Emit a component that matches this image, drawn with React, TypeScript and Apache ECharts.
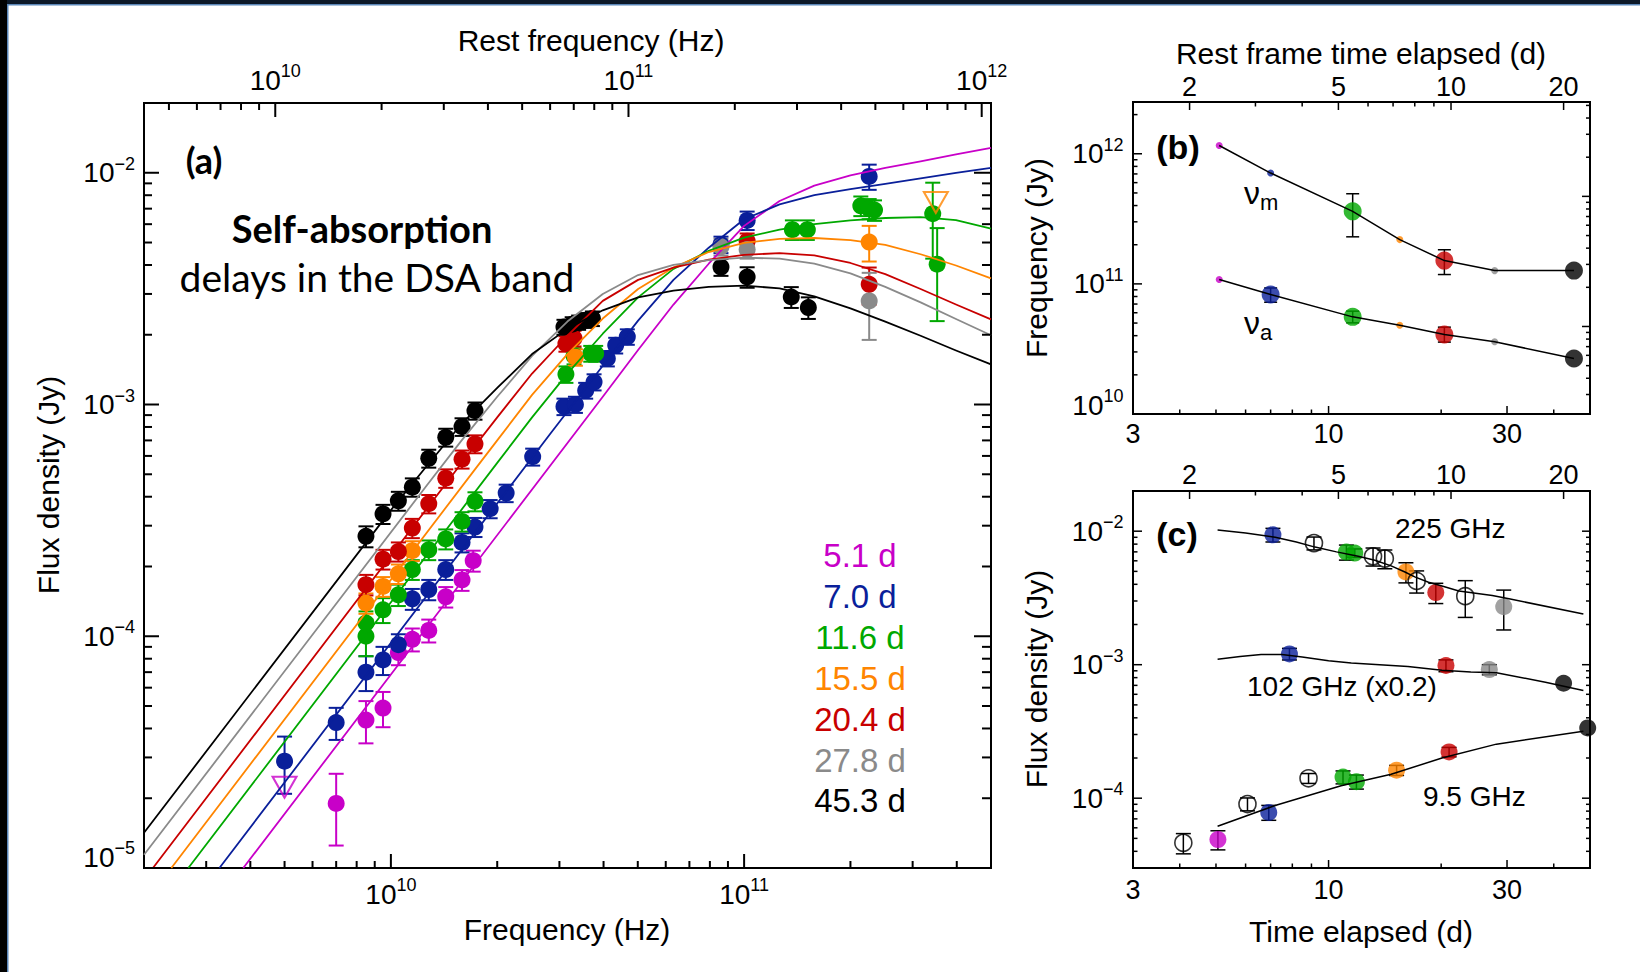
import React, { useEffect, useRef } from "react";
import * as echarts from "echarts";

const FONT = "'Liberation Sans', Arial, Helvetica, sans-serif";
const CAL = "Lato, 'Open Sans', sans-serif";
const ONE_PLUS_Z = 2.125;

const epochLabels = ["5.1 d", "7.0 d", "11.6 d", "15.5 d", "20.4 d", "27.8 d", "45.3 d"];
const epochColors = ["#c800c8", "#0a1f9a", "#00a800", "#ff8500", "#c80000", "#8a8a8a", "#000000"];

// ---------- Panel (a): SEDs  [frequency Hz, flux Jy, sigma Jy]
const sedMagenta = [
  [7.0e9, 1.9e-5, 6.5e-6], [8.5e9, 4.35e-5, 9e-6], [9.5e9, 4.9e-5, 8.5e-6], [1.05e10, 8.5e-5, 1.0e-5],
  [1.15e10, 9.7e-5, 1.1e-5], [1.28e10, 1.06e-4, 1.2e-5], [1.43e10, 1.48e-4, 1.5e-5], [1.59e10, 1.75e-4, 1.8e-5],
  [1.71e10, 2.12e-4, 2.2e-5],
];
const sedBlue = [
  [5.0e9, 2.89e-5, 8e-6], [7.0e9, 4.24e-5, 6.7e-6], [8.5e9, 7.0e-5, 1.2e-5], [9.5e9, 7.9e-5, 1.1e-5],
  [1.05e10, 9.2e-5, 1.0e-5], [1.15e10, 1.45e-4, 1.5e-5], [1.28e10, 1.59e-4, 1.6e-5], [1.43e10, 1.94e-4, 1.9e-5],
  [1.59e10, 2.54e-4, 2.4e-5], [1.73e10, 2.96e-4, 2.8e-5], [1.91e10, 3.55e-4, 3.2e-5], [2.12e10, 4.15e-4, 3.6e-5],
  [2.52e10, 5.95e-4, 5e-5], [3.09e10, 9.8e-4, 8e-5], [3.33e10, 1.0e-3, 8e-5], [3.56e10, 1.15e-3, 9e-5],
  [3.76e10, 1.25e-3, 1.0e-4], [4.1e10, 1.58e-3, 1.2e-4], [4.33e10, 1.8e-3, 1.4e-4], [4.67e10, 1.96e-3, 1.5e-4],
  [8.6e10, 4.9e-3, 4e-4], [1.02e11, 6.23e-3, 5.7e-4], [2.26e11, 9.64e-3, 1.2e-3],
];
const sedGreen = [
  [8.5e9, 1.0e-4, 1.8e-5], [8.5e9, 1.14e-4, 1.4e-5], [9.5e9, 1.3e-4, 1.6e-5], [1.05e10, 1.51e-4, 1.6e-5],
  [1.15e10, 1.94e-4, 1.9e-5], [1.28e10, 2.36e-4, 2.3e-5], [1.43e10, 2.63e-4, 2.6e-5], [1.59e10, 3.13e-4, 3e-5],
  [1.73e10, 3.82e-4, 3.6e-5], [3.13e10, 1.35e-3, 1.1e-4], [3.3e10, 1.62e-3, 1.3e-4], [3.68e10, 1.66e-3, 1.3e-4],
  [3.8e10, 1.66e-3, 1.3e-4], [1.37e11, 5.68e-3, 5.5e-4], [1.51e11, 5.68e-3, 5.5e-4], [2.14e11, 7.2e-3, 7e-4],
  [2.26e11, 7.0e-3, 7e-4], [2.34e11, 6.9e-3, 7e-4], [3.42e11, 6.66e-3, 2.4e-3], [3.52e11, 4.03e-3, 1.74e-3],
];
const sedOrange = [
  [8.5e9, 1.39e-4, 1.4e-5], [9.5e9, 1.64e-4, 1.6e-5], [1.05e10, 1.86e-4, 1.8e-5], [1.15e10, 2.34e-4, 2.3e-5],
  [3.33e10, 1.6e-3, 1.3e-4], [2.26e11, 5.02e-3, 8.8e-4],
];
const sedRed = [
  [8.5e9, 1.67e-4, 1.7e-5], [9.5e9, 2.15e-4, 2.1e-5], [1.05e10, 2.32e-4, 2.2e-5], [1.15e10, 2.93e-4, 2.8e-5],
  [1.28e10, 3.73e-4, 3.4e-5], [1.43e10, 4.81e-4, 4.4e-5], [1.59e10, 5.81e-4, 5.2e-5], [1.73e10, 6.76e-4, 6e-5],
  [3.13e10, 1.83e-3, 1.4e-4], [3.3e10, 1.93e-3, 1.5e-4], [1.02e11, 5.07e-3, 4e-4], [2.26e11, 3.3e-3, 6e-4],
];
const sedGray = [
  [8.6e10, 4.79e-3, 4e-4], [1.02e11, 4.66e-3, 4e-4], [2.26e11, 2.8e-3, 9e-4],
];
const sedBlack = [
  [8.5e9, 2.7e-4, 2.8e-5], [9.5e9, 3.37e-4, 3.2e-5], [1.05e10, 3.84e-4, 3.6e-5], [1.15e10, 4.4e-4, 4e-5],
  [1.28e10, 5.86e-4, 5.2e-5], [1.43e10, 7.22e-4, 6.4e-5], [1.59e10, 8.02e-4, 7e-5], [1.73e10, 9.4e-4, 8e-5],
  [3.09e10, 2.16e-3, 1.6e-4], [3.26e10, 2.22e-3, 1.6e-4], [3.4e10, 2.26e-3, 1.6e-4], [3.56e10, 2.31e-3, 1.7e-4],
  [3.72e10, 2.35e-3, 1.7e-4], [8.6e10, 3.92e-3, 3.3e-4], [1.02e11, 3.55e-3, 3.6e-4], [1.36e11, 2.91e-3, 3e-4],
  [1.52e11, 2.62e-3, 2.8e-4],
];
const limitMagenta = [[5.0e9, 2.23e-5]];
const limitOrange = [[3.49e11, 7.44e-3]];

// model curves [frequency Hz, flux Jy]
const curveMagenta = [[3.82e9, 1e-5], [3.98e10, 1.08e-3], [5.01e10, 1.72e-3], [6.31e10, 2.7e-3], [7.94e10, 4.05e-3], [1e11, 5.9e-3], [1.26e11, 7.55e-3], [1.58e11, 8.8e-3], [2e11, 9.75e-3], [2.51e11, 1.05e-2], [3.16e11, 1.12e-2], [3.98e11, 1.2e-2], [5e11, 1.28e-2]];
const curveBlue = [[3.27e9, 1e-5], [2.83e10, 7.5e-4], [3.98e10, 1.47e-3], [5.01e10, 2.3e-3], [6.31e10, 3.45e-3], [7.94e10, 4.75e-3], [1e11, 6.3e-3], [1.26e11, 7.3e-3], [1.58e11, 8.0e-3], [2e11, 8.5e-3], [2.51e11, 8.95e-3], [3.16e11, 9.45e-3], [3.98e11, 9.98e-3], [5e11, 1.05e-2]];
const curveGreen = [[2.67e9, 1e-5], [2e10, 5.6e-4], [2.51e10, 8.8e-4], [3.16e10, 1.36e-3], [3.98e10, 2.02e-3], [5.01e10, 2.9e-3], [6.31e10, 3.85e-3], [7.94e10, 4.6e-3], [1e11, 5.25e-3], [1.26e11, 5.68e-3], [1.58e11, 6.0e-3], [2e11, 6.23e-3], [2.51e11, 6.38e-3], [3.16e11, 6.44e-3], [3.98e11, 6.25e-3], [5e11, 5.74e-3]];
const curveOrange = [[2.39e9, 1e-5], [1.73e10, 5.25e-4], [2e10, 7.0e-4], [2.51e10, 1.1e-3], [3.16e10, 1.65e-3], [3.98e10, 2.35e-3], [5.01e10, 3.15e-3], [6.31e10, 3.9e-3], [7.94e10, 4.55e-3], [1e11, 4.98e-3], [1.26e11, 5.18e-3], [1.58e11, 5.23e-3], [2e11, 5.12e-3], [2.51e11, 4.88e-3], [3.16e11, 4.45e-3], [3.98e11, 3.98e-3], [5e11, 3.5e-3]];
const curveRed = [[2.12e9, 1e-5], [1.58e10, 5.55e-4], [2e10, 8.8e-4], [2.51e10, 1.36e-3], [3.16e10, 1.98e-3], [3.98e10, 2.8e-3], [5.01e10, 3.45e-3], [6.31e10, 3.9e-3], [7.94e10, 4.22e-3], [1e11, 4.42e-3], [1.26e11, 4.5e-3], [1.58e11, 4.4e-3], [2e11, 4.08e-3], [2.51e11, 3.65e-3], [3.16e11, 3.15e-3], [3.98e11, 2.7e-3], [5e11, 2.33e-3]];
const curveGray = [[2e9, 1.14e-5], [1.26e10, 4.45e-4], [1.58e10, 6.95e-4], [2e10, 1.08e-3], [2.51e10, 1.62e-3], [3.16e10, 2.28e-3], [3.98e10, 3.0e-3], [5.01e10, 3.62e-3], [6.31e10, 4.0e-3], [7.94e10, 4.2e-3], [1e11, 4.3e-3], [1.26e11, 4.26e-3], [1.58e11, 4.05e-3], [2e11, 3.68e-3], [2.51e11, 3.22e-3], [3.16e11, 2.76e-3], [3.98e11, 2.34e-3], [5e11, 1.99e-3]];
const curveBlack = [[2e9, 1.42e-5], [1e10, 3.5e-4], [1.26e10, 5.4e-4], [1.58e10, 8.2e-4], [2e10, 1.18e-3], [2.51e10, 1.65e-3], [3.16e10, 2.12e-3], [3.98e10, 2.55e-3], [5.01e10, 2.9e-3], [6.31e10, 3.1e-3], [7.94e10, 3.22e-3], [1e11, 3.26e-3], [1.26e11, 3.17e-3], [1.58e11, 2.93e-3], [2e11, 2.6e-3], [2.51e11, 2.28e-3], [3.16e11, 1.98e-3], [3.98e11, 1.71e-3], [5e11, 1.49e-3]];

const sedByEpoch = [sedMagenta, sedBlue, sedGreen, sedOrange, sedRed, sedGray, sedBlack];
const curveByEpoch = [curveMagenta, curveBlue, curveGreen, curveOrange, curveRed, curveGray, curveBlack];

// ---------- Panel (b): break frequencies
const breakTime = [5.1, 7.0, 11.6, 15.5, 20.4, 27.8, 45.3];
const nuM = [1.158e12, 7.11e11, 3.61e11, 2.19e11, 1.51e11, 1.265e11, 1.265e11];
const nuMLo = [0, 0, 2.3e11, 0, 1.18e11, 0, 0];
const nuMHi = [0, 0, 4.93e11, 0, 1.83e11, 0, 0];
const nuMBig = [0, 0, 1, 0, 1, 0, 1];
const nuA = [1.08e11, 8.28e10, 5.58e10, 4.81e10, 4.08e10, 3.59e10, 2.67e10];
const nuALo = [0, 7.23e10, 5.02e10, 0, 3.57e10, 0, 0];
const nuAHi = [0, 9.3e10, 6.17e10, 0, 4.65e10, 0, 0];
const nuABig = [0, 1, 1, 0, 1, 0, 1];

// ---------- Panel (c): light curves [time d, flux Jy, sigma Jy]; kind = epoch index, -1 = open circle
const lc225 = [[7.1, 9.4e-3, 1.1e-3], [9.14, 8.14e-3, 9e-4], [11.16, 6.97e-3, 9e-4], [11.75, 6.86e-3, 5e-4], [13.15, 6.48e-3, 1e-3], [14.14, 6.23e-3, 1e-3], [16.1, 4.95e-3, 8.5e-4], [17.2, 4.24e-3, 8e-4], [19.35, 3.47e-3, 6e-4], [23.2, 3.26e-3, 1e-3], [29.4, 2.72e-3, 9e-4]];
const kind225 = [1, -1, 2, 2, -1, -1, 3, -1, 4, -1, 5];
const lc102 = [[7.86, 1.205e-3, 1.2e-4], [20.6, 9.86e-4, 1.0e-4], [26.9, 9.2e-4, 8e-5], [42.5, 7.26e-4, 0]];
const kind102 = [1, 4, 5, 6];
const lc95 = [[4.09, 4.63e-5, 8e-6], [5.06, 4.9e-5, 8e-6], [6.07, 9.04e-5, 1.0e-5], [6.92, 7.83e-5, 1e-5], [8.84, 1.41e-4, 1.2e-5], [10.93, 1.44e-4, 1.6e-5], [11.87, 1.33e-4, 1.6e-5], [15.2, 1.62e-4, 1.4e-5], [21.0, 2.22e-4, 1.8e-5], [49.3, 3.36e-4, 0]];
const kind95 = [-1, 0, -1, 1, -1, 2, 2, 3, 4, 6];
const model225 = [[5.05, 1.02e-2], [6, 9.7e-3], [7.2, 9.0e-3], [8.2, 8.3e-3], [9.2, 7.6e-3], [10.5, 7.0e-3], [12, 6.5e-3], [13.3, 6.05e-3], [14.7, 5.5e-3], [16, 4.95e-3], [17, 4.55e-3], [18.5, 4.15e-3], [20, 3.9e-3], [22.3, 3.57e-3], [27.4, 3.3e-3], [30.6, 3.1e-3], [48, 2.4e-3]];
const model102 = [[5.05, 1.1e-3], [5.8, 1.15e-3], [6.6, 1.19e-3], [7.5, 1.19e-3], [8.5, 1.14e-3], [10, 1.07e-3], [11.5, 1.03e-3], [16.3, 9.7e-4], [20.1, 9.1e-4], [24, 8.8e-4], [28.1, 8.7e-4], [38, 7.4e-4], [48, 6.4e-4]];
const model95 = [[5.05, 6.17e-5], [7.16, 8.77e-5], [10.8, 1.24e-4], [14.7, 1.51e-4], [20.1, 2.0e-4], [28.1, 2.54e-4], [48, 3.17e-4]];

// ---------- tick labels
const aBottomLabels = [[1e10, "10"], [1e11, "11"]];
const aTopLabels = [[1e10, "10"], [1e11, "11"], [1e12, "12"]];
const aLeftLabels = [[1e-5, "\u22125"], [1e-4, "\u22124"], [1e-3, "\u22123"], [1e-2, "\u22122"]];
const bLeftLabels = [[1e10, "10"], [1e11, "11"], [1e12, "12"]];
const cLeftLabels = [[1e-4, "\u22124"], [1e-3, "\u22123"], [1e-2, "\u22122"]];
const timeBottomLabels = [3, 10, 30];
const timeTopLabels = [2, 5, 10, 20];

function minorsLog(lo: number, hi: number) {
  const out: number[] = [];
  for (let e = -6; e <= 13; e++) {
    for (let d = 2; d <= 9; d++) {
      const v = d * Math.pow(10, e);
      if (v > lo * 1.0001 && v < hi * 0.9999) out.push(v);
    }
  }
  return out;
}

type Tick = { v: number; len: number; label?: string; pow?: boolean; dy?: number };
const near = (a: number, b: number) => Math.abs(Math.log10(a) - Math.log10(b)) < 1e-6;

function buildTicks(lo: number, hi: number, majors: number[], majorLen: number, minorLen: number, labels: any[], pow: boolean, dyList: number[][] = []) {
  const ticks: Tick[] = [];
  minorsLog(lo, hi).forEach((v) => {
    if (!majors.some((m) => near(m, v))) ticks.push({ v, len: minorLen });
  });
  majors.forEach((m) => ticks.push({ v: m, len: majorLen }));
  labels.forEach((l) => {
    const val = pow ? l[0] : l;
    const text = pow ? l[1] : String(l);
    const d = dyList.find((q) => near(q[0], val));
    const dy = d ? d[1] : 0;
    const t = ticks.find((tk) => near(tk.v, val));
    if (t) { t.label = text; t.pow = pow; t.dy = dy; }
    else ticks.push({ v: val, len: 0, label: text, pow, dy });
  });
  return ticks;
}

function richPow(fs: number, ss: number) {
  return {
    b: { fontSize: fs, fontFamily: FONT, lineHeight: fs + 8, fill: "#000" },
    s: { fontSize: ss, fontFamily: FONT, verticalAlign: "top", fill: "#000" },
  };
}

function tickSeries(xi: number, yi: number, side: string, ticks: Tick[], fixed: number, off: number, fs: number, lw: number) {
  const horiz = side === "bottom" || side === "top";
  return {
    type: "custom",
    xAxisIndex: xi,
    yAxisIndex: yi,
    silent: true,
    z: 6,
    clip: false,
    data: ticks.map((t) => (horiz ? [t.v, fixed] : [fixed, t.v])),
    renderItem: (params: any, api: any) => {
      const t = ticks[params.dataIndex];
      const p = api.coord(horiz ? [t.v, fixed] : [fixed, t.v]);
      const x = p[0], y = p[1];
      let x2 = x, y2 = y;
      if (side === "bottom") y2 = y - t.len;
      else if (side === "top") y2 = y + t.len;
      else if (side === "left") x2 = x + t.len;
      else x2 = x - t.len;
      const children: any[] = [];
      if (t.len > 0) children.push({ type: "line", shape: { x1: x, y1: y, x2, y2 }, style: { stroke: "#000", lineWidth: lw } });
      if (t.label !== undefined) {
        let tx = x, ty = y, align = "center";
        if (side === "bottom") ty = y + off;
        else if (side === "top") ty = y - off;
        else if (side === "left") { tx = x - off; align = "right"; }
        ty += t.dy || 0;
        const style: any = t.pow
          ? { text: "{b|10}{s|" + t.label + "}", rich: richPow(fs, Math.round(fs * 0.64)) }
          : { text: t.label, fontSize: fs, fontFamily: FONT };
        style.fill = "#000";
        style.align = align; style.textAlign = align;
        style.verticalAlign = "middle"; style.textVerticalAlign = "middle";
        children.push({ type: "text", x: tx, y: ty, style });
      }
      return { type: "group", children };
    },
  };
}

function errSeries(xi: number, yi: number, rows: number[][], color: string, half: number, lw: number, z = 2) {
  return {
    type: "custom",
    xAxisIndex: xi,
    yAxisIndex: yi,
    silent: true,
    z,
    data: rows,
    renderItem: (params: any, api: any) => {
      const x = api.value(0), lo = api.value(1), hi = api.value(2);
      const a = api.coord([x, hi]);
      const b = api.coord([x, lo]);
      const st = { stroke: color, lineWidth: lw };
      return {
        type: "group",
        children: [
          { type: "line", shape: { x1: a[0], y1: a[1], x2: b[0], y2: b[1] }, style: st },
          { type: "line", shape: { x1: a[0] - half, y1: a[1], x2: a[0] + half, y2: a[1] }, style: st },
          { type: "line", shape: { x1: b[0] - half, y1: b[1], x2: b[0] + half, y2: b[1] }, style: st },
        ],
      };
    },
  };
}

function sigmaRows(pts: number[][]) {
  return pts.filter((p) => p[2] > 0).map((p) => [p[0], p[1] - p[2], p[1] + p[2]]);
}

function buildOption() {
  const A = { left: 144, top: 103, width: 847, height: 765 };
  const B = { left: 1133, top: 102, width: 457, height: 312 };
  const C = { left: 1133, top: 491, width: 457, height: 377 };
  const gridBase = { show: true, borderColor: "#000", borderWidth: 2, backgroundColor: "transparent", containLabel: false };
  const hidden = { show: false };
  const logAx = (gridIndex: number, min: number, max: number, position: string) => ({
    type: "log", logBase: 10, gridIndex, min, max, position,
    axisLine: hidden, axisTick: hidden, axisLabel: hidden, splitLine: hidden, minorTick: hidden, minorSplitLine: hidden,
  });

  const aX = [2e9, 5e11], aY = [1e-5, 2e-2];
  const tX = [3, 50], bY = [1e10, 2.5e12], cY = [3e-5, 2e-2];

  const xAxis = [
    logAx(0, aX[0], aX[1], "bottom"),
    logAx(0, aX[0] * ONE_PLUS_Z, aX[1] * ONE_PLUS_Z, "top"),
    logAx(1, tX[0], tX[1], "bottom"),
    logAx(1, tX[0] / ONE_PLUS_Z, tX[1] / ONE_PLUS_Z, "top"),
    logAx(2, tX[0], tX[1], "bottom"),
    logAx(2, tX[0] / ONE_PLUS_Z, tX[1] / ONE_PLUS_Z, "top"),
  ];
  const yAxis = [
    logAx(0, aY[0], aY[1], "left"),
    logAx(1, bY[0], bY[1], "left"),
    logAx(1, bY[0] * ONE_PLUS_Z, bY[1] * ONE_PLUS_Z, "right"),
    logAx(2, cY[0], cY[1], "left"),
  ];

  const series: any[] = [];

  // ----- ticks
  const aBot = buildTicks(aX[0], aX[1], [1e10, 1e11], 14, 7, aBottomLabels, true);
  const aTop = buildTicks(aX[0] * ONE_PLUS_Z, aX[1] * ONE_PLUS_Z, [1e10, 1e11, 1e12], 14, 7, aTopLabels, true);
  const aLeft = buildTicks(aY[0], aY[1], [1e-5, 1e-4, 1e-3, 1e-2], 15, 8, aLeftLabels, true, [[1e-5, -11]]);
  const aRight = buildTicks(aY[0], aY[1], [1e-4, 1e-3, 1e-2], 17, 9, [], true);
  series.push(tickSeries(0, 0, "bottom", aBot, aY[0], 26, 28, 2));
  series.push(tickSeries(1, 0, "top", aTop, aY[1], 23, 28, 2));
  series.push(tickSeries(0, 0, "left", aLeft, aX[0], 9, 28, 2));
  series.push(tickSeries(0, 0, "right", aRight, aX[1], 0, 28, 2));

  const tBot = buildTicks(tX[0], tX[1], [10, 30], 8, 4.5, timeBottomLabels, false);
  const tTop = buildTicks(tX[0] / ONE_PLUS_Z, tX[1] / ONE_PLUS_Z, [2, 5, 10, 20], 8, 4.5, timeTopLabels, false);
  const bLeft = buildTicks(bY[0], bY[1], [1e10, 1e11, 1e12], 9, 4.5, bLeftLabels, true, [[1e10, -9]]);
  const bRight = buildTicks(bY[0] * ONE_PLUS_Z, bY[1] * ONE_PLUS_Z, [1e11, 1e12], 8, 4, [], true);
  series.push(tickSeries(2, 1, "bottom", tBot, bY[0], 20, 27, 1.5));
  series.push(tickSeries(3, 1, "top", tTop, bY[1], 15, 27, 1.5));
  series.push(tickSeries(2, 1, "left", bLeft, tX[0], 9.5, 28, 1.5));
  series.push(tickSeries(2, 2, "right", bRight, tX[1], 0, 28, 1.5));

  const cLeft = buildTicks(cY[0], cY[1], [1e-4, 1e-3, 1e-2], 9, 4.5, cLeftLabels, true);
  const cRight = buildTicks(cY[0], cY[1], [1e-4, 1e-3, 1e-2], 8, 4, [], true);
  series.push(tickSeries(4, 3, "bottom", tBot, cY[0], 22, 27, 1.5));
  series.push(tickSeries(5, 3, "top", tTop, cY[1], 16, 27, 1.5));
  series.push(tickSeries(4, 3, "left", cLeft, tX[0], 9.5, 28, 1.5));
  series.push(tickSeries(4, 3, "right", cRight, tX[1], 0, 28, 1.5));

  // ----- panel (a) curves
  curveByEpoch.forEach((c, i) => {
    series.push({
      type: "line", xAxisIndex: 0, yAxisIndex: 0, data: c, showSymbol: false, symbol: "none",
      smooth: false, silent: true, clip: true,
      lineStyle: { color: epochColors[i], width: 1.8, join: "round" },
    });
  });
  // ----- panel (a) points
  sedByEpoch.forEach((s, i) => {
    series.push(errSeries(0, 0, sigmaRows(s), epochColors[i], 7.5, 2));
    series.push({
      type: "scatter", xAxisIndex: 0, yAxisIndex: 0, symbol: "circle", symbolSize: 17, silent: true,
      data: s.map((p) => [p[0], p[1]]), itemStyle: { color: epochColors[i], opacity: 1 },
    });
    if (i === 0 || i === 3) {
      series.push({
        type: "scatter", xAxisIndex: 0, yAxisIndex: 0, symbol: "triangle", symbolRotate: 180, symbolSize: [24, 21], silent: true,
        data: i === 0 ? limitMagenta : limitOrange,
        itemStyle: { color: "rgba(255,255,255,0)", borderColor: epochColors[i], borderWidth: 2 },
      });
    }
  });

  // ----- panel (b)
  const bLine = (vals: number[]) => ({
    type: "line", xAxisIndex: 2, yAxisIndex: 1, data: breakTime.map((t, k) => [t, vals[k]]), showSymbol: false,
    symbol: "none", silent: true, lineStyle: { color: "#000", width: 1.5 },
  });
  series.push(bLine(nuM));
  series.push(bLine(nuA));
  const bPts = (vals: number[], big: number[]) => ({
    type: "scatter", xAxisIndex: 2, yAxisIndex: 1, silent: true, symbol: "circle",
    data: breakTime.map((t, k) => ({ value: [t, vals[k]], symbolSize: big[k] ? 18 : 7, itemStyle: { color: epochColors[k] } })),
  });
  series.push(bPts(nuM, nuMBig));
  series.push(bPts(nuA, nuABig));
  const bErr = (lo: number[], hi: number[]) =>
    breakTime.map((t, k) => [t, lo[k], hi[k]]).filter((r) => r[1] > 0);
  series.push(errSeries(2, 1, bErr(nuMLo, nuMHi), "#000", 6.5, 1.5));
  series.push(errSeries(2, 1, bErr(nuALo, nuAHi), "#000", 6.5, 1.5));

  // ----- panel (c)
  [model225, model102, model95].forEach((m) => {
    series.push({
      type: "line", xAxisIndex: 4, yAxisIndex: 3, data: m, showSymbol: false, symbol: "none",
      smooth: false, silent: true, lineStyle: { color: "#000", width: 1.5, join: "round" },
    });
  });
  const cPts = (rows: number[][], kinds: number[]) => ({
    type: "scatter", xAxisIndex: 4, yAxisIndex: 3, silent: true, symbol: "circle", symbolSize: 17,
    data: rows.map((r, k) => ({
      value: [r[0], r[1]],
      itemStyle: kinds[k] < 0
        ? { color: "rgba(255,255,255,0)", borderColor: "#000", borderWidth: 1.6 }
        : { color: epochColors[kinds[k]], borderWidth: 0 },
    })),
  });
  [[lc225, kind225], [lc102, kind102], [lc95, kind95]].forEach((pair: any) => {
    series.push(cPts(pair[0], pair[1]));
    series.push(errSeries(4, 3, sigmaRows(pair[0]), "#000", 7.5, 1.5));
  });

  // ----- texts and frame
  const txt = (text: string, x: number, y: number, opts: any = {}) => ({
    type: "text", x, y, z: 20, silent: true, rotation: opts.rotation || 0,
    style: {
      text, fill: opts.color || "#000",
      font: opts.font || `30px ${FONT}`,
      align: opts.align || "center", textAlign: opts.align || "center",
      verticalAlign: "middle", textVerticalAlign: "middle",
      rich: opts.rich,
    },
  });
  const nuRich = {
    n: { fontSize: 32, fontFamily: FONT, verticalAlign: "top", fill: "#000" },
    s: { fontSize: 22, fontFamily: FONT, verticalAlign: "bottom", lineHeight: 37, fill: "#000" },
  };
  const graphic: any[] = [
    { type: "rect", shape: { x: 0, y: 0, width: 1640, height: 4 }, style: { fill: "#0c1828" }, z: 30, silent: true },
    { type: "rect", shape: { x: 0, y: 0, width: 7, height: 972 }, style: { fill: "#020202" }, z: 30, silent: true },
    { type: "rect", shape: { x: 7, y: 4, width: 1633, height: 1.5 }, style: { fill: "#5a86b8" }, z: 30, silent: true },
    { type: "rect", shape: { x: 7, y: 4, width: 1.5, height: 968 }, style: { fill: "#5a86b8" }, z: 30, silent: true },

    txt("(a)", 204, 160, { font: `bold 36px ${CAL}` }),
    txt("Self-absorption", 362, 228, { font: `bold 38px ${CAL}` }),
    txt("delays in the DSA band", 377, 277, { font: `39px ${CAL}` }),
    txt("Flux density (Jy)", 48, 485, { rotation: Math.PI / 2 }),
    txt("Frequency (Hz)", 567, 929),
    txt("Rest frequency (Hz)", 591, 40),

    txt("(b)", 1178, 147, { font: `bold 34px ${FONT}` }),
    txt("Rest frame time elapsed (d)", 1361, 53),
    txt("Frequency (Jy)", 1036, 258, { rotation: Math.PI / 2 }),
    txt("{n|\u03bd}{s|m}", 1244, 195, { align: "left", rich: nuRich }),
    txt("{n|\u03bd}{s|a}", 1244, 325, { align: "left", rich: nuRich }),

    txt("(c)", 1177, 534, { font: `bold 34px ${FONT}` }),
    txt("Flux density (Jy)", 1036, 679, { rotation: Math.PI / 2 }),
    txt("Time elapsed (d)", 1361, 931),
    txt("225 GHz", 1395, 528, { align: "left", font: `28px ${FONT}` }),
    txt("102 GHz (x0.2)", 1247, 686, { align: "left", font: `28px ${FONT}` }),
    txt("9.5 GHz", 1423, 796, { align: "left", font: `28px ${FONT}` }),
  ];
  const legendY = [555, 596, 637, 678, 719, 760, 800];
  epochLabels.forEach((l, i) => graphic.push(txt(l, 860, legendY[i], { color: epochColors[i], font: `33px ${FONT}` })));

  return {
    animation: false,
    backgroundColor: "#ffffff",
    textStyle: { fontFamily: FONT },
    grid: [{ ...gridBase, ...A }, { ...gridBase, ...B }, { ...gridBase, ...C }],
    xAxis,
    yAxis,
    series,
    graphic,
  };
}

export default function App() {
  const ref = useRef<HTMLDivElement>(null);
  useEffect(() => {
    document.body.style.margin = "0";
    const chart = echarts.init(ref.current as HTMLDivElement, null, { renderer: "svg" });
    chart.setOption(buildOption() as any);
    return () => chart.dispose();
  }, []);
  return <div ref={ref} style={{ position: "absolute", left: 0, top: 0, width: 1640, height: 972 }} />;
}
